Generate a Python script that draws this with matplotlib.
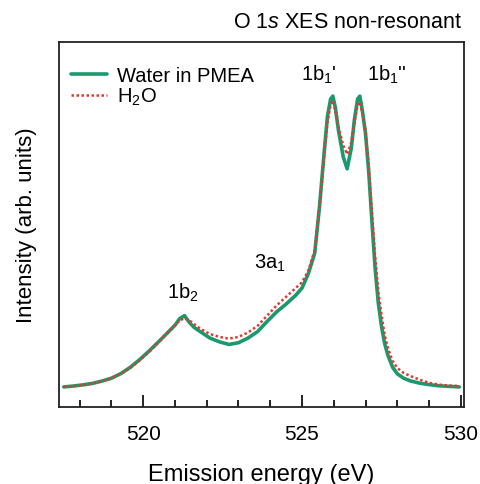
import matplotlib
matplotlib.use("Agg")
import matplotlib.pyplot as plt
from matplotlib.ticker import MultipleLocator

plt.rcParams['font.family'] = ['Liberation Sans', 'DejaVu Sans']
plt.rcParams['mathtext.fontset'] = 'custom'
plt.rcParams['mathtext.rm'] = 'Liberation Sans'
plt.rcParams['mathtext.it'] = 'Liberation Sans:italic'

# Emission energy (eV)
energy = [517.5, 517.8, 518.1, 518.4, 518.7, 519.0, 519.3, 519.6, 519.9, 520.2,
          520.5, 520.8, 521.0, 521.15, 521.3, 521.45, 521.6, 521.8, 522.1, 522.4, 522.7,
          523.0, 523.3, 523.6, 523.9, 524.2, 524.5, 524.8, 525.0, 525.2, 525.4,
          525.55, 525.7, 525.8, 525.9, 525.97, 526.05, 526.15, 526.3, 526.42, 526.55,
          526.65, 526.75, 526.82, 526.9, 527.0, 527.1, 527.2, 527.3, 527.4, 527.5,
          527.6, 527.7, 527.85, 528.0, 528.2, 528.4, 528.7, 529.0, 529.3, 529.6,
          529.95]

# Water in PMEA (green, solid)
pmea = [0.0, 0.003, 0.007, 0.012, 0.02, 0.03, 0.046, 0.068, 0.095, 0.125,
        0.157, 0.19, 0.212, 0.235, 0.245, 0.222, 0.205, 0.19, 0.168, 0.155, 0.146,
        0.152, 0.168, 0.19, 0.225, 0.258, 0.285, 0.315, 0.34, 0.39, 0.46,
        0.62, 0.81, 0.93, 0.99, 1.0, 0.96, 0.88, 0.79, 0.75, 0.82,
        0.92, 0.99, 1.0, 0.95, 0.87, 0.74, 0.57, 0.41, 0.29, 0.21,
        0.15, 0.11, 0.068, 0.045, 0.03, 0.021, 0.013, 0.008, 0.004, 0.002,
        0.0]

# bulk H2O (red, dotted)
h2o = [0.0, 0.003, 0.006, 0.012, 0.02, 0.03, 0.045, 0.066, 0.092, 0.122,
       0.155, 0.19, 0.213, 0.229, 0.236, 0.229, 0.216, 0.2, 0.182, 0.172, 0.166,
       0.172, 0.187, 0.21, 0.245, 0.28, 0.31, 0.34, 0.36, 0.40, 0.47,
       0.62, 0.80, 0.91, 0.97, 0.985, 0.95, 0.89, 0.83, 0.80, 0.84,
       0.91, 0.97, 0.98, 0.94, 0.88, 0.76, 0.6, 0.45, 0.33, 0.25,
       0.18, 0.135, 0.09, 0.065, 0.048, 0.038, 0.025, 0.014, 0.008, 0.005,
       0.003]

# peak labels and where they sit
peak_labels = ['1b$_2$', '3a$_1$', "1b$_1$'", "1b$_1$''"]
peak_x = [521.26, 524.0, 525.53, 527.67]
peak_y = [0.326, 0.43, 1.076, 1.076]

green = '#1a9a6c'
red = '#e03a30'

fig = plt.figure(figsize=(4.81, 4.85), dpi=100)
ax = fig.add_axes([0.1227, 0.1588, 0.842, 0.7525])

ax.plot(energy, pmea, color=green, lw=2.6, label='Water in PMEA', solid_capstyle='round')
ax.plot(energy, h2o, color=red, lw=1.8, ls=(0, (1, 1)), label='H$_2$O')

for lab, px, py in zip(peak_labels, peak_x, peak_y):
    ax.text(px, py, lab, fontsize=14.5, ha='center', va='center')

ax.set_xlim(517.35, 530.1)
ax.set_ylim(-0.069, 1.186)
ax.xaxis.set_major_locator(MultipleLocator(5))
ax.xaxis.set_minor_locator(MultipleLocator(1))
ax.tick_params(axis='x', which='major', direction='in', length=9, width=1.2,
               labelsize=15, pad=12)
ax.tick_params(axis='x', which='minor', direction='in', length=5, width=1.2)
ax.set_yticks([])
for s in ax.spines.values():
    s.set_linewidth(1.3)
    s.set_color('#222222')

ax.set_xlabel('Emission energy (eV)', fontsize=17, labelpad=15)
ax.set_ylabel('Intensity (arb. units)', fontsize=16, labelpad=16)

fig.text(0.961, 0.953, r'O 1$\mathit{s}$ XES non-resonant', fontsize=15.5,
         ha='right', va='center')

ax.legend(loc='upper left', bbox_to_anchor=(0.0296, 0.934), frameon=False,
          fontsize=14.5, handlelength=1.8, handletextpad=0.5, labelspacing=0.05,
          borderpad=0, borderaxespad=0)

fig.savefig('out.png', dpi=100)
